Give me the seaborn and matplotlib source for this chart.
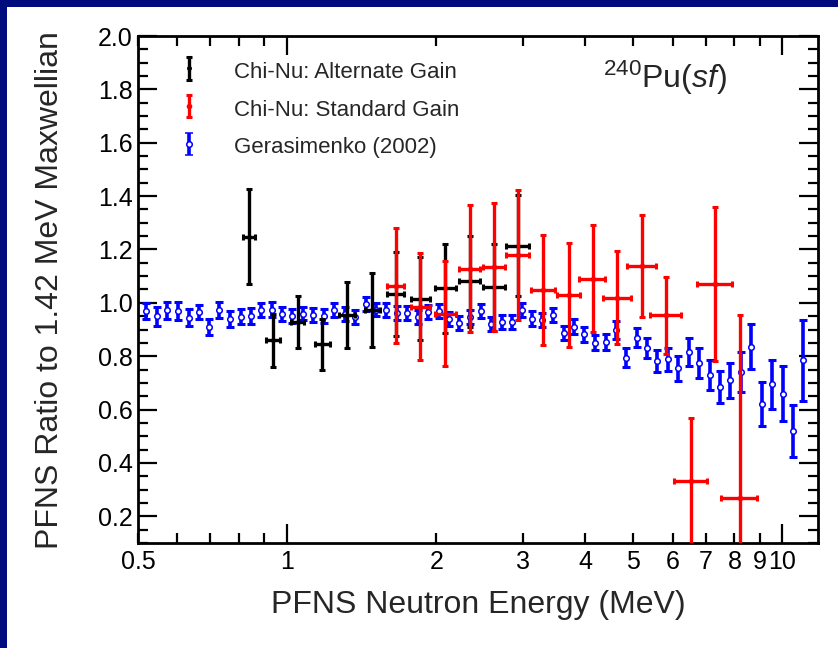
import numpy as np
import pandas as pd
import seaborn as sns
import matplotlib
matplotlib.use("Agg")
import matplotlib.pyplot as plt
from matplotlib.ticker import FixedLocator, FixedFormatter
from matplotlib.patches import Rectangle

# ---------------- data ----------------
alt_E = [0.837, 0.937, 1.051, 1.178, 1.322, 1.487, 1.658, 1.859, 2.088, 2.338, 2.62, 2.928]
alt_R = [1.247, 0.860, 0.929, 0.844, 0.954, 0.973, 1.033, 1.016, 1.054, 1.081, 1.058, 1.214]
alt_dR = [0.178, 0.100, 0.097, 0.096, 0.125, 0.138, 0.158, 0.156, 0.166, 0.170, 0.163, 0.190]
alt_dE = [0.024, 0.031, 0.032, 0.040, 0.047, 0.050, 0.065, 0.080, 0.100, 0.110, 0.135, 0.157]

std_E = [1.658, 1.859, 2.088, 2.338, 2.62, 2.928, 3.29, 3.70, 4.14, 4.64, 5.21, 5.82, 6.54, 7.32, 8.21]
std_R = [1.064, 0.985, 0.960, 1.128, 1.135, 1.179, 1.048, 1.029, 1.091, 1.020, 1.138, 0.953, 0.331, 1.071, 0.270]
std_dR = [0.216, 0.200, 0.196, 0.237, 0.240, 0.243, 0.205, 0.196, 0.200, 0.175, 0.190, 0.145, 0.238, 0.290, 0.685]
std_dE = [0.065, 0.080, 0.100, 0.110, 0.135, 0.157, 0.184, 0.200, 0.248, 0.297, 0.350, 0.410, 0.490, 0.590, 0.690]

ger_E = [0.520, 0.547, 0.573, 0.602, 0.633, 0.663, 0.696, 0.729, 0.768, 0.806,
         0.845, 0.887, 0.933, 0.977, 1.025, 1.077, 1.128, 1.186, 1.246, 1.308,
         1.374, 1.442, 1.512, 1.587, 1.668, 1.750, 1.834, 1.927, 2.025, 2.125,
         2.226, 2.339, 2.458, 2.579, 2.710, 2.848, 2.984, 3.126, 3.275, 3.446,
         3.615, 3.795, 3.981, 4.184, 4.395, 4.605, 4.834, 5.078, 5.332, 5.592,
         5.867, 6.166, 6.468, 6.797, 7.130, 7.483, 7.851, 8.237, 8.646, 9.082,
         9.532, 10.01, 10.51, 11.03]
ger_R = [0.969, 0.950, 0.973, 0.970, 0.945, 0.966, 0.910, 0.973, 0.941, 0.948,
         0.951, 0.973, 0.975, 0.958, 0.951, 0.960, 0.956, 0.951, 0.973, 0.958,
         0.948, 0.995, 0.975, 0.973, 0.963, 0.963, 0.948, 0.966, 0.970, 0.941,
         0.925, 0.948, 0.969, 0.920, 0.929, 0.929, 0.973, 0.941, 0.935, 0.954,
         0.888, 0.910, 0.883, 0.851, 0.855, 0.898, 0.795, 0.870, 0.831, 0.781,
         0.789, 0.754, 0.816, 0.775, 0.729, 0.685, 0.710, 0.741, 0.835, 0.620,
         0.695, 0.659, 0.520, 0.784]
ger_dR = [0.029, 0.036, 0.032, 0.035, 0.032, 0.027, 0.030, 0.031, 0.030, 0.029,
          0.029, 0.027, 0.029, 0.027, 0.027, 0.026, 0.026, 0.026, 0.026, 0.026,
          0.026, 0.026, 0.026, 0.026, 0.026, 0.026, 0.026, 0.026, 0.026, 0.026,
          0.026, 0.026, 0.026, 0.027, 0.027, 0.027, 0.027, 0.027, 0.027, 0.027,
          0.027, 0.028, 0.028, 0.028, 0.030, 0.035, 0.034, 0.036, 0.039, 0.041,
          0.043, 0.046, 0.051, 0.055, 0.057, 0.059, 0.066, 0.074, 0.084, 0.082,
          0.092, 0.103, 0.098, 0.152]

x_major = [1, 10]
x_minor = [0.5, 0.6, 0.7, 0.8, 0.9, 2, 3, 4, 5, 6, 7, 8, 9]
x_minor_labels = ["0.5", "", "", "", "", "2", "3", "4", "5", "6", "7", "8", "9"]
y_major = [0.2, 0.4, 0.6, 0.8, 1.0, 1.2, 1.4, 1.6, 1.8, 2.0]
y_minor = [0.1, 0.15, 0.25, 0.3, 0.35, 0.45, 0.5, 0.55, 0.65, 0.7, 0.75, 0.85, 0.9, 0.95,
           1.05, 1.1, 1.15, 1.25, 1.3, 1.35, 1.45, 1.5, 1.55, 1.65, 1.7, 1.75, 1.85, 1.9, 1.95]

labels = ["Chi-Nu: Alternate Gain", "Chi-Nu: Standard Gain", "Gerasimenko (2002)"]

# ---------------- style ----------------
sns.set_theme(style="ticks")
plt.rcParams["font.family"] = ["Liberation Sans", "DejaVu Sans"]
plt.rcParams["mathtext.fontset"] = "custom"
plt.rcParams["mathtext.rm"] = "Liberation Sans"
plt.rcParams["mathtext.it"] = "Liberation Sans:italic"

W, H = 838, 648
fig = plt.figure(figsize=(W / 100, H / 100), dpi=100)
fig.patch.set_facecolor("white")
navy = "#000C7E"
fig.patches.append(Rectangle((0, 1 - 7 / H), 1, 7 / H, transform=fig.transFigure,
                             facecolor=navy, edgecolor="none", zorder=-5))
fig.patches.append(Rectangle((0, 0), 7 / W, 1, transform=fig.transFigure,
                             facecolor=navy, edgecolor="none", zorder=-5))

ax = fig.add_axes([138 / W, 1 - 543 / H, 680 / W, 507 / H])
ax.set_facecolor("white")

df_ger = pd.DataFrame({"E": ger_E, "R": ger_R, "dR": ger_dR})
df_alt = pd.DataFrame({"E": alt_E, "R": alt_R, "dR": alt_dR, "dE": alt_dE})
df_std = pd.DataFrame({"E": std_E, "R": std_R, "dR": std_dR, "dE": std_dE})

blue = "#0000FF"
red = "#FF0000"

# Gerasimenko
ax.errorbar(df_ger.E, df_ger.R, yerr=df_ger.dR, fmt="none", ecolor=blue,
            elinewidth=2.6, capsize=2.6, capthick=2.2, zorder=2)
sns.scatterplot(data=df_ger, x="E", y="R", ax=ax, marker="o", s=16,
                facecolor="white", edgecolor=blue, linewidth=1.1, zorder=3, legend=False)

# Alternate gain (black)
ax.errorbar(df_alt.E, df_alt.R, xerr=df_alt.dE, fmt="none", ecolor="black",
            elinewidth=2.4, capsize=2.5, capthick=2.2, zorder=4)
h_alt = ax.errorbar(df_alt.E, df_alt.R, yerr=df_alt.dR, fmt="o", ms=2.5, color="black",
                    ecolor="black", elinewidth=2.4, capsize=2.5, capthick=2.2, zorder=4)

# Standard gain (red)
ax.errorbar(df_std.E, df_std.R, xerr=df_std.dE, fmt="none", ecolor=red,
            elinewidth=2.4, capsize=2.5, capthick=2.2, zorder=5)
h_std = ax.errorbar(df_std.E, df_std.R, yerr=df_std.dR, fmt="o", ms=3, color=red,
                    ecolor=red, elinewidth=2.4, capsize=2.5, capthick=2.2, zorder=5)

# legend proxy for Gerasimenko with marker
h_ger_leg = ax.errorbar([np.nan], [np.nan], yerr=[np.nan], fmt="o", ms=4, mfc="white",
                        mec=blue, mew=1.1, ecolor=blue, elinewidth=2.6, capsize=2.6, capthick=2.2)

ax.set_xscale("log")
ax.set_xlim(0.5, 11.8)
ax.set_ylim(0.1, 2.0)

ax.xaxis.set_major_locator(FixedLocator(x_major))
ax.xaxis.set_major_formatter(FixedFormatter([str(v) for v in x_major]))
ax.xaxis.set_minor_locator(FixedLocator(x_minor))
ax.xaxis.set_minor_formatter(FixedFormatter(x_minor_labels))
ax.yaxis.set_major_locator(FixedLocator(y_major))
ax.yaxis.set_major_formatter(FixedFormatter([f"{v:.1f}" for v in y_major]))
ax.yaxis.set_minor_locator(FixedLocator(y_minor))

for s in ax.spines.values():
    s.set_linewidth(2.0)
    s.set_color("black")
ax.tick_params(which="both", direction="in", top=True, right=True, width=1.6,
               colors="black", labelsize=18)
ax.tick_params(which="major", length=14, pad=4)
ax.tick_params(which="minor", length=7, pad=4)
ax.tick_params(axis="x", which="both", pad=5)

ax.set_xlabel("")
ax.set_ylabel("")
fig.text(478 / W, 1 - 605 / H, "PFNS Neutron Energy (MeV)", ha="center", va="center", fontsize=23)
fig.text(50 / W, 1 - 290 / H, "PFNS Ratio to 1.42 MeV Maxwellian", ha="center", va="center",
         rotation=90, fontsize=23)
fig.text(727 / W, 1 - 88 / H, r"$^{240}$Pu($\mathit{sf}$)", ha="right", va="baseline", fontsize=23)

leg = ax.legend([h_alt, h_std, h_ger_leg], labels, loc="upper left",
                bbox_to_anchor=(178 / W, 1 - 59 / H), bbox_transform=fig.transFigure,
                frameon=False, fontsize=16, handlelength=1.0, handleheight=1.2,
                handletextpad=1.5, labelspacing=0.62, borderpad=0, borderaxespad=0)

fig.savefig("out.png", dpi=100)
